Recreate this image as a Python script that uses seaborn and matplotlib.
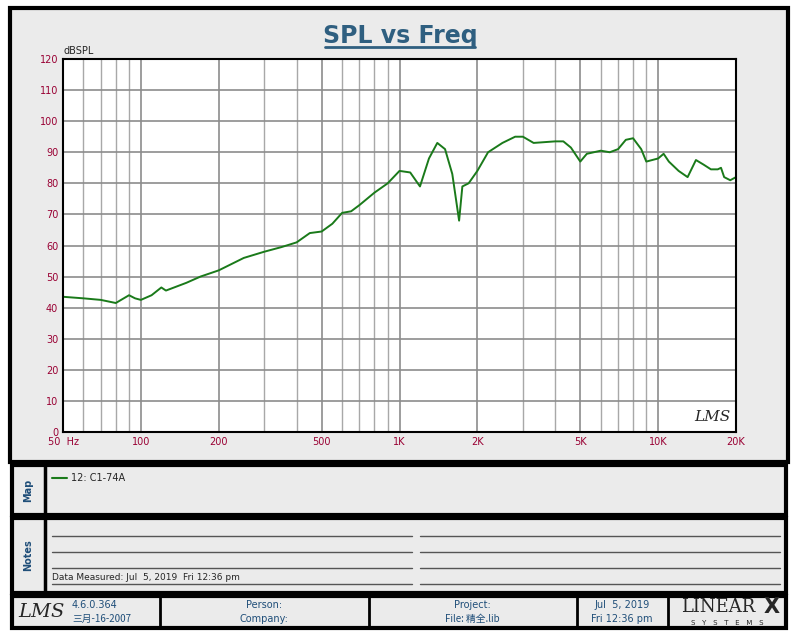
import numpy as np
import matplotlib
matplotlib.use("Agg")
import matplotlib.pyplot as plt
import seaborn as sns
from matplotlib.patches import Rectangle

# data
freq = [50, 60, 70, 80, 90, 95, 100, 110, 120, 125, 150, 170, 200, 250, 300, 350, 400, 450, 500,
        550, 600, 650, 700, 800, 900, 1000, 1100, 1200, 1300, 1400, 1500, 1600, 1700, 1750, 1850,
        2000, 2200, 2500, 2800, 3000, 3300, 4000, 4300, 4600, 5000, 5300, 6000, 6500, 7000, 7500,
        8000, 8600, 9000, 10000, 10500, 11000, 12000, 13000, 14000, 15000, 16000, 17000, 17500,
        18000, 19000, 20000]
spl = [43.5, 43, 42.5, 41.5, 44, 43, 42.5, 44, 46.5, 45.5, 48, 50, 52, 56, 58, 59.5, 61, 64, 64.5,
       67, 70.5, 71, 73, 77, 80, 84, 83.5, 79, 88, 93, 91, 83, 68, 79, 80,
       84, 90, 93, 95, 95, 93, 93.5, 93.5, 91.5, 87, 89.5, 90.5, 90, 91, 94,
       94.5, 91, 87, 88, 89.5, 87, 84, 82, 87.5, 86, 84.5, 84.5, 85,
       82, 81, 82]
xticks = [50, 100, 200, 500, 1000, 2000, 5000, 10000, 20000]
xlabels = ["50  Hz", "100", "200", "500", "1K", "2K", "5K", "10K", "20K"]
yticks = list(range(0, 121, 10))

sns.set_style("white")
plt.rcParams['font.family'] = ['DejaVu Sans', 'Noto Sans CJK SC']

W, H = 800, 640
fig = plt.figure(figsize=(8, 6.4), dpi=100)
fig.patch.set_facecolor("white")
bg = fig.add_axes([0, 0, 1, 1])
bg.set_xlim(0, W); bg.set_ylim(H, 0); bg.axis("off")

grey = "#ebebeb"
def box(x0, y0, x1, y1, lw=2.5):
    bg.add_patch(Rectangle((x0, y0), x1 - x0, y1 - y0, fc=grey, ec="black", lw=lw))

box(10, 8, 788, 462, 3)
box(12, 465, 786, 515, 3)
box(12, 518, 786, 593, 3)
box(12, 596, 786, 628, 3)
bg.plot([45, 45], [465, 593], color="black", lw=2.5)
for xv in [160, 369, 577, 668]:
    bg.plot([xv, xv], [596, 628], color="black", lw=2)

blue = "#1f4e79"
bg.text(28, 490, "Map", rotation=90, ha="center", va="center", fontsize=7, color=blue, fontweight="bold")
bg.text(28, 555, "Notes", rotation=90, ha="center", va="center", fontsize=7, color=blue, fontweight="bold")
bg.plot([52, 67], [478, 478], color="#1a7a1a", lw=1.5)
bg.text(71, 478, "12: C1-74A", fontsize=7, va="center")
for yv in [536, 552, 568, 584]:
    bg.plot([52, 412], [yv, yv], color="#555555", lw=1)
    bg.plot([420, 780], [yv, yv], color="#555555", lw=1)
bg.text(52, 582, "Data Measured: Jul  5, 2019  Fri 12:36 pm", fontsize=6.5, va="bottom")

bg.text(18, 612, "LMS", fontsize=14, style="italic", va="center", family=["DejaVu Serif"])
bg.text(72, 605, "4.6.0.364", fontsize=7, color=blue, va="center")
bg.text(72, 619, "三月-16-2007", fontsize=7, color=blue, va="center", family=["Noto Sans CJK SC", "DejaVu Sans"])
bg.text(264, 605, "Person:", fontsize=7, color=blue, ha="center", va="center")
bg.text(264, 619, "Company:", fontsize=7, color=blue, ha="center", va="center")
bg.text(472, 605, "Project:", fontsize=7, color=blue, ha="center", va="center")
bg.text(472, 619, "File: 精全.lib", fontsize=7, color=blue, ha="center", va="center", family=["Noto Sans CJK SC", "DejaVu Sans"])
bg.text(622, 605, "Jul  5, 2019", fontsize=7, color=blue, ha="center", va="center")
bg.text(622, 619, "Fri 12:36 pm", fontsize=7, color=blue, ha="center", va="center")
bg.text(718, 607, "LINEAR", fontsize=13, ha="center", va="center", family=["DejaVu Serif"], fontweight="light")
bg.text(772, 607, "X", fontsize=15, ha="center", va="center", fontweight="bold")
bg.text(727, 623, "S   Y   S   T   E   M   S", fontsize=5, ha="center", va="center")

bg.text(400, 36, "SPL vs Freq", fontsize=17, fontweight="bold", color="#2f5f80", ha="center", va="center")
bg.plot([325, 475], [47, 47], color="#2f5f80", lw=2)
bg.text(63, 56, "dBSPL", fontsize=7, va="bottom")

ax = fig.add_axes([63 / W, 1 - 432 / H, (736 - 63) / W, (432 - 59) / H])
ax.set_facecolor("white")
sns.lineplot(x=freq, y=spl, ax=ax, color="#1a7a1a", lw=1.4)
ax.set_xscale("log")
ax.set_xlim(50, 20000)
ax.set_ylim(0, 120)
ax.set_xticks(xticks)
ax.set_xticklabels(xlabels)
ax.set_yticks(yticks)
ax.xaxis.set_minor_locator(matplotlib.ticker.LogLocator(subs=np.arange(2, 10)))
ax.xaxis.set_minor_formatter(matplotlib.ticker.NullFormatter())
ax.grid(which="major", color="#8c8c8c", lw=1.2)
ax.grid(which="minor", axis="x", color="#a8a8a8", lw=1)
ax.tick_params(axis="both", which="both", length=0, labelsize=7, labelcolor="#990033")
for s in ax.spines.values():
    s.set_color("black"); s.set_linewidth(1.5)
ax.text(0.965, 0.04, "LMS", transform=ax.transAxes, fontsize=11, style="italic",
        ha="center", va="center", family=["DejaVu Serif"])

fig.savefig("out.png", dpi=100)
